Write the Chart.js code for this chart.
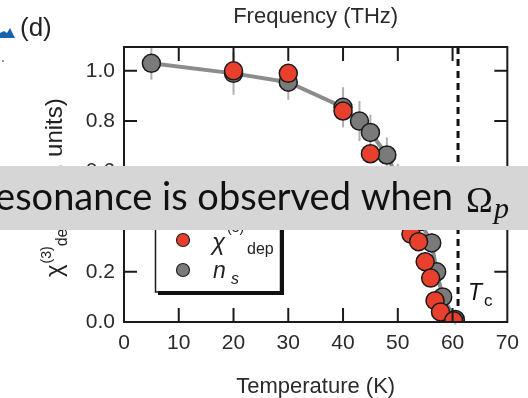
<!DOCTYPE html>
<html>
<head>
<meta charset="utf-8">
<script src="https://cdn.jsdelivr.net/npm/chart.js@4.4.1/dist/chart.umd.min.js"></script>
<style>
  html, body { margin: 0; padding: 0; background: #fff; }
  #wrap { width: 528px; height: 398px; overflow: hidden; }
</style>
</head>
<body>
<div id="wrap"><canvas id="chart" width="528" height="398"></canvas></div>
<script>
// chi(3)_dep points (red)
const redTemps  = [20, 30, 40, 45, 48, 50, 51.5, 52.4, 53.8, 55, 56, 56.8, 57.8, 60.2];
const redValues = [1.00, 0.99, 0.84, 0.67, 0.58, 0.50, 0.43, 0.35, 0.32, 0.24, 0.175, 0.085, 0.04, 0.005];

// superfluid density n_s (grey), with error bars
const greyTemps  = [5, 20, 30, 40, 43, 45, 48, 50, 52, 54, 56.2, 57.1, 58.2, 60.5];
const greyValues = [1.03, 0.99, 0.955, 0.855, 0.80, 0.755, 0.665, 0.57, 0.48, 0.40, 0.315, 0.20, 0.10, 0.01];
const greyErrors = [0.065, 0.085, 0.07, 0.08, 0.08, 0.07, 0.07, 0.06, 0.05, 0.05, 0.04, 0.035, 0.03, 0.02];

const xTicks = [0, 10, 20, 30, 40, 50, 60, 70];
const xTickLabels = ['0', '10', '20', '30', '40', '50', '60', '70'];
const yTicks = [0, 0.2, 0.4, 0.6, 0.8, 1.0];
const yTickLabels = ['0.0', '0.2', '0.4', '0.6', '0.8', '1.0'];
const tcTemp = 61;

const sans = "'Liberation Sans', Arial, Helvetica, sans-serif";

// extra drawing: error bars, Tc line, frame with inward ticks, legend, labels, banner
const decor = {
  id: 'decor',
  beforeDatasetsDraw(chart) {
    const { ctx, chartArea: a, scales: { x, y } } = chart;
    ctx.save();
    ctx.strokeStyle = '#b0b0b0';
    ctx.lineWidth = 2;
    greyTemps.forEach((t, i) => {
      const px = x.getPixelForValue(t);
      ctx.beginPath();
      ctx.moveTo(px, y.getPixelForValue(greyValues[i] - greyErrors[i]));
      ctx.lineTo(px, y.getPixelForValue(greyValues[i] + greyErrors[i]));
      ctx.stroke();
    });
    // Tc dashed line
    const tx = x.getPixelForValue(tcTemp);
    ctx.strokeStyle = '#111';
    ctx.lineWidth = 3;
    ctx.setLineDash([7, 5]);
    ctx.beginPath();
    ctx.moveTo(tx, a.top);
    ctx.lineTo(tx, a.bottom);
    ctx.stroke();
    ctx.restore();
  },
  afterDraw(chart) {
    const { ctx, chartArea: a, scales: { x, y } } = chart;
    ctx.save();
    // frame
    ctx.strokeStyle = '#1a1a1a';
    ctx.lineWidth = 2;
    ctx.strokeRect(a.left, a.top, a.right - a.left, a.bottom - a.top);
    // inward ticks
    ctx.beginPath();
    yTicks.forEach(v => {
      const py = y.getPixelForValue(v);
      ctx.moveTo(a.left, py); ctx.lineTo(a.left + 13, py);
      ctx.moveTo(a.right, py); ctx.lineTo(a.right - 13, py);
    });
    xTicks.slice(1, -1).forEach(v => {
      const px = x.getPixelForValue(v);
      ctx.moveTo(px, a.bottom); ctx.lineTo(px, a.bottom - 14);
      ctx.moveTo(px, a.top); ctx.lineTo(px, a.top + 14);
    });
    ctx.stroke();

    // T_c label
    ctx.fillStyle = '#111';
    ctx.font = 'italic 23px ' + sans;
    ctx.fillText('T', 468, 300);
    ctx.font = '17px ' + sans;
    ctx.fillText('c', 484, 306);

    // legend box
    ctx.lineWidth = 1.5;
    ctx.strokeRect(155.5, 176, 125, 116);
    ctx.fillStyle = '#111';
    ctx.fillRect(158, 291, 126, 4);
    ctx.fillRect(280, 180, 4, 115);
    const marks = [
      { c: chart.data.datasets[0].backgroundColor, y: 240 },
      { c: chart.data.datasets[1].pointBackgroundColor, y: 270 }
    ];
    marks.forEach(m => {
      ctx.beginPath();
      ctx.arc(183, m.y, 6.5, 0, Math.PI * 2);
      ctx.fillStyle = m.c;
      ctx.fill();
      ctx.lineWidth = 1.2;
      ctx.strokeStyle = '#222';
      ctx.stroke();
    });
    ctx.fillStyle = '#222';
    ctx.font = 'italic 24px ' + sans;
    ctx.fillText('χ', 212, 250);
    ctx.font = '14px ' + sans;
    ctx.fillText('(3)', 227, 232);
    ctx.font = '16px ' + sans;
    ctx.fillText('dep', 247, 254);
    ctx.font = 'italic 23px ' + sans;
    ctx.fillText('n', 213, 278);
    ctx.font = 'italic 16px ' + sans;
    ctx.fillText('s', 231, 284);

    // y axis title (rotated)
    ctx.save();
    ctx.translate(62, 277);
    ctx.rotate(-Math.PI / 2);
    ctx.fillStyle = '#222';
    let cx = 0;
    ctx.font = '24px ' + sans;
    ctx.fillText('χ', cx, 0); cx += ctx.measureText('χ').width + 1;
    ctx.font = '14px ' + sans;
    ctx.fillText('(3)', cx, -11); cx += ctx.measureText('(3)').width;
    ctx.font = '16px ' + sans;
    ctx.fillText('dep', cx, 5); cx += ctx.measureText('dep').width;
    ctx.font = '24px ' + sans;
    ctx.fillText(' (arb. units)', cx, 0);
    ctx.restore();

    // panel label (d) and blue mark
    ctx.fillStyle = '#1762ad';
    ctx.beginPath();
    ctx.moveTo(0, 38); ctx.lineTo(0, 33); ctx.lineTo(4, 31); ctx.lineTo(7, 33);
    ctx.lineTo(10, 28); ctx.lineTo(15, 38); ctx.closePath();
    ctx.fill();
    ctx.fillStyle = '#222';
    ctx.font = '26px ' + sans;
    ctx.fillText('(d)', 20, 36);
    ctx.fillStyle = '#999';
    ctx.fillRect(2, 60, 2, 2);

    // slide caption banner over the figure
    ctx.fillStyle = '#d6d6d6';
    ctx.fillRect(0, 166, 528, 64);
    ctx.fillStyle = '#111';
    ctx.font = '38px Lato, sans-serif';
    ctx.textAlign = 'right';
    ctx.fillText('Resonance is observed when', 453, 210);
    ctx.textAlign = 'left';
    ctx.font = '36px "Liberation Serif", "DejaVu Serif", serif';
    ctx.fillText('Ω', 466, 212);
    ctx.font = 'italic 30px "Liberation Serif", "DejaVu Serif", serif';
    ctx.fillText('p', 494, 218);
    ctx.restore();
  }
};

const ctx = document.getElementById('chart').getContext('2d');
new Chart(ctx, {
  type: 'scatter',
  data: {
    datasets: [
      {
        label: 'χ(3) dep',
        data: redTemps.map((t, i) => ({ x: t, y: redValues[i] })),
        backgroundColor: '#e8402d',
        borderColor: '#1a1a1a',
        borderWidth: 1.5,
        pointRadius: 9
      },
      {
        label: 'n_s',
        data: greyTemps.map((t, i) => ({ x: t, y: greyValues[i] })),
        showLine: true,
        borderColor: '#8c8c8c',
        borderWidth: 4,
        pointBackgroundColor: '#7a7a7a',
        pointBorderColor: '#1a1a1a',
        pointBorderWidth: 1.5,
        pointRadius: 9
      }
    ]
  },
  options: {
    responsive: false,
    animation: false,
    layout: { padding: { right: 17 } },
    plugins: { legend: { display: false }, tooltip: { enabled: false } },
    scales: {
      x: {
        type: 'linear', position: 'bottom', min: 0, max: 70,
        afterFit: s => { s.height = 76; },
        afterBuildTicks: s => { s.ticks = xTicks.map(v => ({ value: v })); },
        grid: { display: false, drawTicks: false },
        border: { display: false },
        ticks: { padding: 9, color: '#2a2a2a', font: { size: 21, family: sans }, maxRotation: 0, autoSkip: false,
                 callback: (v, i) => xTickLabels[i] },
        title: { display: true, text: 'Temperature (K)', color: '#2a2a2a', font: { size: 22, family: sans }, padding: { top: 0, bottom: -2 } }
      },
      x2: {
        type: 'linear', position: 'top', min: 0, max: 70,
        afterFit: s => { s.height = 47; },
        grid: { display: false, drawTicks: false },
        border: { display: false },
        ticks: { display: false },
        title: { display: true, text: 'Frequency (THz)', color: '#2a2a2a', font: { size: 22, family: sans }, padding: { top: 4, bottom: 0 } }
      },
      y: {
        type: 'linear', min: 0, max: 1.095,
        afterFit: s => { s.width = 124; },
        afterBuildTicks: s => { s.ticks = yTicks.map(v => ({ value: v })); },
        grid: { display: false, drawTicks: false },
        border: { display: false },
        ticks: { padding: 9, color: '#2a2a2a', font: { size: 21, family: sans },
                 callback: (v, i) => yTickLabels[i] }
      }
    }
  },
  plugins: [decor]
});
</script>
</body>
</html>
